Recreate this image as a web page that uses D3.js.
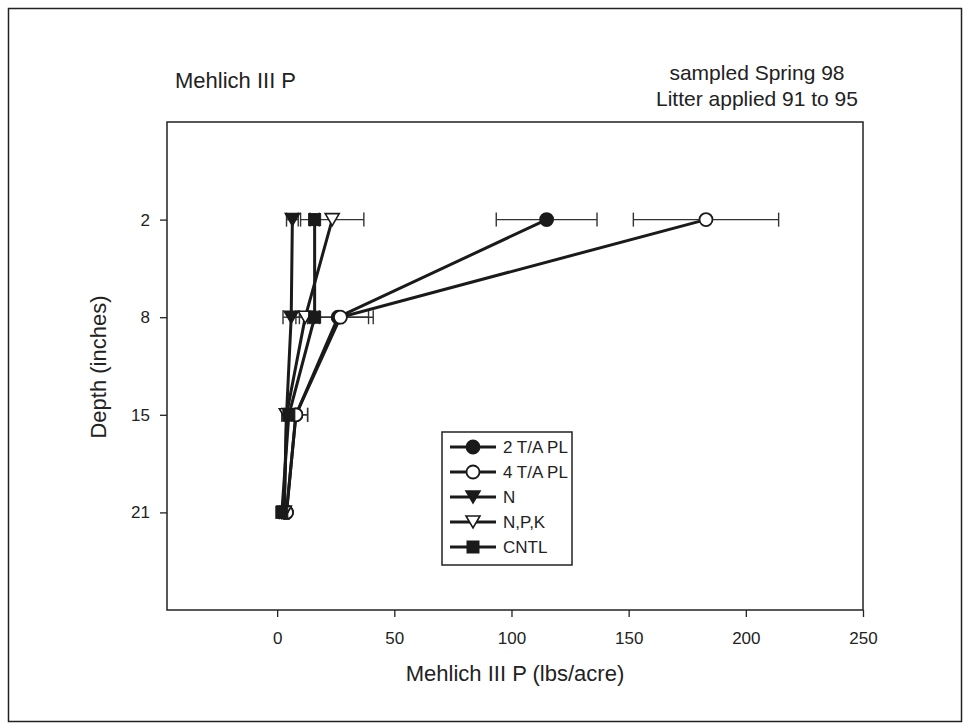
<!DOCTYPE html>
<html><head><meta charset="utf-8">
<script src="https://cdn.jsdelivr.net/npm/d3@7/dist/d3.min.js"></script>
<style>body{margin:0;background:#fff}svg{display:block}text{font-family:"Liberation Sans",Arial,sans-serif;fill:#222}</style>
</head><body><div id="chart"></div>
<script>
const depths = ["2", "8", "15", "21"];
const xTicks = [0, 50, 100, 150, 200, 250];
const seriesNames = ["2 T/A PL", "4 T/A PL", "N", "N,P,K", "CNTL"];
const pl2 = [115, 26, 8, 4];
const pl2Err = [21.5, 13, 5, 1];
const pl4 = [183, 27, 8, 4];
const pl4Err = [31, 14, 5, 1];
const nVals = [6.5, 6, 4, 3];
const nErr = [2.5, 3.5, 2, 1];
const npkVals = [23.5, 12, 4, 3];
const npkErr = [13.5, 4, 2, 1];
const cntlVals = [16, 16, 5, 2];
const cntlErr = [2, 2, 2, 1];

const series = [
  {name: seriesNames[0], vals: pl2, err: pl2Err, shape: "circle", fill: true},
  {name: seriesNames[1], vals: pl4, err: pl4Err, shape: "circle", fill: false},
  {name: seriesNames[2], vals: nVals, err: nErr, shape: "tri", fill: true},
  {name: seriesNames[3], vals: npkVals, err: npkErr, shape: "tri", fill: false},
  {name: seriesNames[4], vals: cntlVals, err: cntlErr, shape: "square", fill: true}
];

const W = 969, H = 728;
const svg = d3.select("#chart").append("svg").attr("width", W).attr("height", H);
svg.append("rect").attr("x", 8.5).attr("y", 8.5).attr("width", 953).attr("height", 713)
  .attr("fill", "none").attr("stroke", "#222").attr("stroke-width", 1.5);

const L = 167, R = 863, T = 122, B = 610;
const x = d3.scaleLinear().domain([-47, 250]).range([L, R]);
const y = d3.scalePoint().domain(depths).range([T, B]).padding(1);

svg.append("rect").attr("x", L).attr("y", T).attr("width", R - L).attr("height", B - T)
  .attr("fill", "none").attr("stroke", "#222").attr("stroke-width", 1.5);

const FF = '"Liberation Sans",Arial,sans-serif';
const xAxis = svg.append("g").attr("transform", `translate(0,${B})`)
  .call(d3.axisBottom(x).tickValues(xTicks).tickSize(7).tickPadding(15));
xAxis.select(".domain").remove();
xAxis.selectAll("line").attr("stroke", "#222").attr("stroke-width", 1.3);
xAxis.selectAll("text").style("font-size", "17px").style("font-family", FF).attr("fill", "#222");

const yAxis = svg.append("g").attr("transform", `translate(${L},0)`)
  .call(d3.axisLeft(y).tickSize(7).tickPadding(10));
yAxis.select(".domain").remove();
yAxis.selectAll("line").attr("stroke", "#222").attr("stroke-width", 1.3);
yAxis.selectAll("text").style("font-size", "17px").style("font-family", FF).attr("fill", "#222");

svg.append("text").attr("x", 515).attr("y", 681).attr("text-anchor", "middle").style("font-size", "22px").text("Mehlich III P (lbs/acre)");
svg.append("text").attr("transform", "translate(106,367) rotate(-90)").attr("text-anchor", "middle").style("font-size", "22px").text("Depth (inches)");
svg.append("text").attr("x", 175).attr("y", 88).style("font-size", "22px").text("Mehlich III P");
svg.append("text").attr("x", 757).attr("y", 80).attr("text-anchor", "middle").style("font-size", "21px").text("sampled Spring 98");
svg.append("text").attr("x", 757).attr("y", 106).attr("text-anchor", "middle").style("font-size", "21px").text("Litter applied 91 to 95");

function marker(g, s, cx, cy) {
  const fill = s.fill ? "#1a1a1a" : "#fff";
  if (s.shape === "circle") {
    g.append("circle").attr("cx", cx).attr("cy", cy).attr("r", 6.5).attr("fill", fill).attr("stroke", "#1a1a1a").attr("stroke-width", 1.8);
  } else if (s.shape === "tri") {
    g.append("path").attr("d", `M${cx-7},${cy-6}L${cx+7},${cy-6}L${cx},${cy+6}Z`).attr("fill", fill).attr("stroke", "#1a1a1a").attr("stroke-width", 1.6);
  } else {
    g.append("rect").attr("x", cx-6).attr("y", cy-6).attr("width", 12).attr("height", 12).attr("fill", fill).attr("stroke", "#1a1a1a").attr("stroke-width", 1);
  }
}

const plot = svg.append("g");
series.forEach(s => {
  s.vals.forEach((v, i) => {
    const cy = y(depths[i]);
    const x0 = x(v - s.err[i]), x1 = x(v + s.err[i]);
    const g = plot.append("g").attr("stroke", "#333").attr("stroke-width", 1.4);
    g.append("line").attr("x1", x0).attr("x2", x1).attr("y1", cy).attr("y2", cy);
    g.append("line").attr("x1", x0).attr("x2", x0).attr("y1", cy-7).attr("y2", cy+7);
    g.append("line").attr("x1", x1).attr("x2", x1).attr("y1", cy-7).attr("y2", cy+7);
  });
});
const line = d3.line().x(d => x(d.v)).y(d => y(d.d));
series.forEach(s => {
  plot.append("path").datum(s.vals.map((v, i) => ({v, d: depths[i]})))
    .attr("d", line).attr("fill", "none").attr("stroke", "#1a1a1a").attr("stroke-width", 3);
});
series.forEach(s => {
  s.vals.forEach((v, i) => marker(plot, s, x(v), y(depths[i])));
});

const lg = svg.append("g");
lg.append("rect").attr("x", 442).attr("y", 432).attr("width", 130).attr("height", 133)
  .attr("fill", "#fff").attr("stroke", "#222").attr("stroke-width", 1.5);
series.forEach((s, i) => {
  const cy = 447 + i * 25;
  lg.append("line").attr("x1", 450).attr("x2", 496).attr("y1", cy).attr("y2", cy).attr("stroke", "#1a1a1a").attr("stroke-width", 3);
  marker(lg, s, 473, cy);
  lg.append("text").attr("x", 503).attr("y", cy + 6).style("font-size", "17px").text(s.name);
});
</script></body></html>
